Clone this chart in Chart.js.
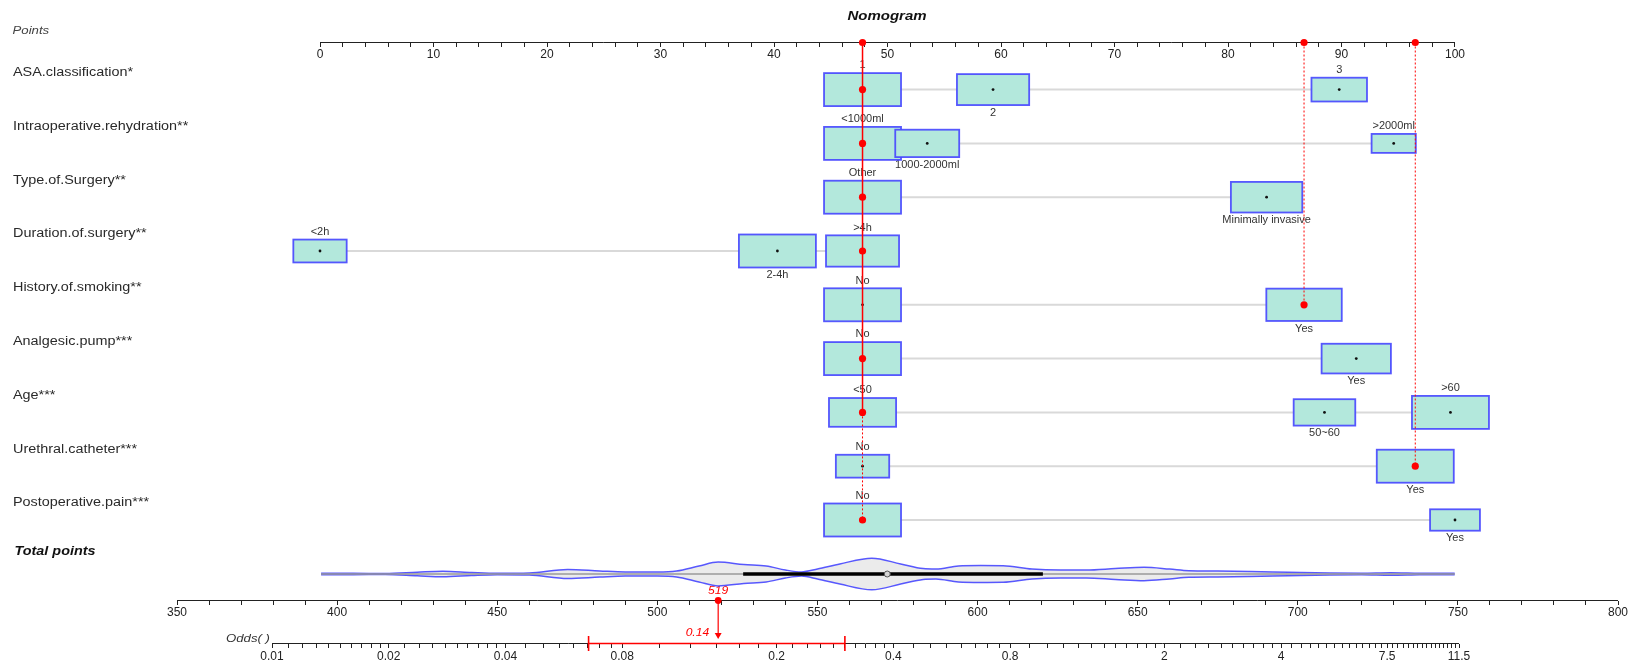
<!DOCTYPE html>
<html>
<head>
<meta charset="utf-8">
<script src="https://cdn.jsdelivr.net/npm/chart.js@4.4.1/dist/chart.umd.min.js"></script>
<style>html,body{margin:0;padding:0;background:#fff;}canvas{display:block;}</style>
</head>
<body>
<canvas id="c" width="1633" height="663"></canvas>
<script>
// ================= DATA =================
const variableNames = ['ASA.classification*','Intraoperative.rehydration**','Type.of.Surgery**','Duration.of.surgery**','History.of.smoking**','Analgesic.pump***','Age***','Urethral.catheter***','Postoperative.pain***'];

const asaLevels = ['1','2','3'];
const asaPoints = [47.8, 59.3, 89.8];
const asaFreq = [1.00, 0.88, 0.52];

const rehydrationLevels = ['<1000ml','1000-2000ml','>2000ml'];
const rehydrationPoints = [47.8, 53.5, 94.6];
const rehydrationFreq = [1.00, 0.69, 0.33];

const surgeryTypeLevels = ['Other','Minimally invasive'];
const surgeryTypePoints = [47.8, 83.4];
const surgeryTypeFreq = [1.00, 0.86];

const durationLevels = ['<2h','2-4h','>4h'];
const durationPoints = [0, 40.3, 47.8];
const durationFreq = [0.48, 1.00, 0.90];

const smokingLevels = ['No','Yes'];
const smokingPoints = [47.8, 86.7];
const smokingFreq = [1.00, 0.96];

const pumpLevels = ['No','Yes'];
const pumpPoints = [47.8, 91.3];
const pumpFreq = [1.00, 0.81];

const ageLevels = ['<50','50~60','>60'];
const agePoints = [47.8, 88.5, 99.6];
const ageFreq = [0.76, 0.64, 1.00];

const catheterLevels = ['No','Yes'];
const catheterPoints = [47.8, 96.5];
const catheterFreq = [0.48, 1.00];

const painLevels = ['No','Yes'];
const painPoints = [47.8, 100];
const painFreq = [1.00, 0.42];

// the observation shown in red (level index per variable)
const selectedLevel = [0, 0, 0, 2, 1, 0, 0, 1, 0];
const totalScore = 519;
const predictedOdds = 0.14;
const oddsCI = [0.0655, 0.30];
// log(odds) = intercept + slope * total points
const oddsLinkIntercept = -11.8235;
const oddsLinkSlope = 0.019012;

// distribution of total points (violin)
const violinTotals  = [395,405,415,425,433,442,450,460,472,482,490,500,506,513,519,527,534,540,545,550,557,567,576,583,587,594,601,608,617,626,634,643,652,660,666,675,685,697,710,720,729,738,749];
const violinDensity = [0.04,0.04,0.03,0.11,0.17,0.09,0.04,0.06,0.28,0.19,0.13,0.13,0.19,0.50,0.75,0.59,0.50,0.25,0.13,0.31,0.63,0.99,0.63,0.34,0.31,0.50,0.53,0.52,0.31,0.25,0.25,0.34,0.42,0.31,0.21,0.19,0.16,0.11,0.06,0.05,0.08,0.05,0.04];
const totalBoxStats = [395, 526.8, 571.8, 620.4, 749]; // min, q1, median, q3, max

// tick labels
const pointsTickLabels = [0,10,20,30,40,50,60,70,80,90,100];
const totalTickLabels = [350,400,450,500,550,600,650,700,750,800];
const oddsTickLabels = [0.01,0.02,0.04,0.08,0.2,0.4,0.8,2,4,7.5,11.5];
const oddsTickText = ['0.01','0.02','0.04','0.08','0.2','0.4','0.8','2','4','7.5','11.5'];
const pointsMinorStep = 2;
const totalMinorStep = 10;
const oddsMinorRanges = [[0.01,0.02,0.001],[0.02,0.04,0.002],[0.04,0.08,0.005],[0.08,0.2,0.02],[0.2,0.4,0.02],[0.4,0.8,0.05],[0.8,2,0.1],[2,4,0.2],[4,7.5,0.25],[7.5,11.5,0.25]];

// ================= LAYOUT =================
const W = 1633, H = 663;
const PTS_PX = [320, 1455];   // pixels of points 0 and 100
const TOT_PX = [177, 1618];   // pixels of total 350 and 800
const ROW1_PX = 89.6, ROW_STEP = 53.8;
const PTS_AXIS_PX = 42.5, TOT_AXIS_PX = 600.5, ODDS_AXIS_PX = 643.5, VIOLIN_PX = 574;
const BOX_W = 77, BOX_H = 33, VIOLIN_HALF_MAX = 16;
const RED_SOLID_END_ROW = 7;
const FONT = "'Liberation Sans', Arial, sans-serif";
const RED = '#ff0000';

const rowVal = px => 1 + (px - ROW1_PX) / ROW_STEP;
const yMin = rowVal(0), yMax = rowVal(H);
const ptsPx = (PTS_PX[1] - PTS_PX[0]) / 100;
const xPMin = 0 - PTS_PX[0] / ptsPx, xPMax = 100 + (W - PTS_PX[1]) / ptsPx;
const totPx = (TOT_PX[1] - TOT_PX[0]) / 450;
const xTMin = 350 - TOT_PX[0] / totPx, xTMax = 800 + (W - TOT_PX[1]) / totPx;
const xOMin = Math.exp(oddsLinkIntercept + oddsLinkSlope * xTMin);
const xOMax = Math.exp(oddsLinkIntercept + oddsLinkSlope * xTMax);

const rows = [
  [asaLevels, asaPoints, asaFreq],
  [rehydrationLevels, rehydrationPoints, rehydrationFreq],
  [surgeryTypeLevels, surgeryTypePoints, surgeryTypeFreq],
  [durationLevels, durationPoints, durationFreq],
  [smokingLevels, smokingPoints, smokingFreq],
  [pumpLevels, pumpPoints, pumpFreq],
  [ageLevels, agePoints, ageFreq],
  [catheterLevels, catheterPoints, catheterFreq],
  [painLevels, painPoints, painFreq]
].map((r, i) => ({ name: variableNames[i], levels: r[0], pts: r[1], freq: r[2], y: i + 1 }));

function stepTicks(a, b, step) {
  const out = [];
  const n = Math.round((b - a) / step);
  for (let k = 0; k <= n; k++) out.push(+(a + k * step).toFixed(6));
  return out;
}
const pointsTicks = stepTicks(0, 100, pointsMinorStep);
const totalTicks = stepTicks(350, 800, totalMinorStep);
let oddsTicks = [];
oddsMinorRanges.forEach(r => { oddsTicks = oddsTicks.concat(stepTicks(r[0], r[1], r[2])); });
oddsTicks = Array.from(new Set(oddsTicks.map(v => +v.toFixed(6)))).sort((a, b) => a - b);

// ================= DATASETS =================
const datasets = [];
const line = (o) => Object.assign({ showLine: true, pointRadius: 0, pointHoverRadius: 0, borderWidth: 1, fill: false, yAxisID: 'y' }, o);
const pts = (o) => Object.assign({ showLine: false, yAxisID: 'y', borderWidth: 0, pointHoverRadius: 0 }, o);

// connectors
const connectorData = [];
rows.forEach(r => {
  const lo = Math.min(...r.pts), hi = Math.max(...r.pts);
  connectorData.push({ x: lo, y: r.y }, { x: hi, y: r.y }, { x: hi, y: null });
});
const CONNECTOR_INDEX = datasets.length;
datasets.push(line({ data: connectorData, xAxisID: 'xP', borderColor: '#d9d9d9', borderWidth: 2, order: 100, spanGaps: false }));

// violin
const vc = rowVal(VIOLIN_PX);
datasets.push(line({ data: violinTotals.map((t, i) => ({ x: t, y: vc - violinDensity[i] * VIOLIN_HALF_MAX / ROW_STEP })),
  xAxisID: 'xT', borderColor: 'rgba(60,60,255,0.85)', borderWidth: 1.5, backgroundColor: '#ebebeb', fill: '+1', cubicInterpolationMode: 'monotone', order: 95 }));
datasets.push(line({ data: violinTotals.map((t, i) => ({ x: t, y: vc + violinDensity[i] * VIOLIN_HALF_MAX / ROW_STEP })),
  xAxisID: 'xT', borderColor: 'rgba(60,60,255,0.85)', borderWidth: 1.5, cubicInterpolationMode: 'monotone', order: 94 }));
datasets.push(line({ data: [{ x: totalBoxStats[0], y: vc }, { x: totalBoxStats[4], y: vc }], xAxisID: 'xT', borderColor: '#9a9a9a', borderWidth: 1.5, order: 50 }));
datasets.push(line({ data: [{ x: totalBoxStats[1], y: vc }, { x: totalBoxStats[3], y: vc }], xAxisID: 'xT', borderColor: '#000', borderWidth: 3.5, order: 49 }));
datasets.push(pts({ data: [{ x: totalBoxStats[2], y: vc }], xAxisID: 'xT', pointRadius: 3, pointBackgroundColor: '#d4d4d4', pointBorderColor: '#555', pointBorderWidth: 1, order: 48 }));

// axis lines
datasets.push(line({ data: [{ x: 0, y: rowVal(PTS_AXIS_PX) }, { x: 100, y: rowVal(PTS_AXIS_PX) }], xAxisID: 'xP', borderColor: '#222', order: 90 }));
datasets.push(line({ data: [{ x: 350, y: rowVal(TOT_AXIS_PX) }, { x: 800, y: rowVal(TOT_AXIS_PX) }], xAxisID: 'xT', borderColor: '#222', order: 90 }));
datasets.push(line({ data: [{ x: oddsTickLabels[0], y: rowVal(ODDS_AXIS_PX) }, { x: oddsTickLabels[oddsTickLabels.length - 1], y: rowVal(ODDS_AXIS_PX) }], xAxisID: 'xO', borderColor: '#222', order: 90 }));

// box centre dots
const centreDots = [];
rows.forEach(r => r.pts.forEach(p => centreDots.push({ x: p, y: r.y })));
datasets.push(pts({ data: centreDots, xAxisID: 'xP', pointRadius: 1.4, pointBackgroundColor: '#111', order: 60 }));

// red vertical lines
const selVals = rows.map((r, i) => r.pts[selectedLevel[i]]);
const distinct = Array.from(new Set(selVals));
distinct.forEach((v, k) => {
  const lastRow = Math.max(...rows.filter((r, i) => selVals[i] === v).map(r => r.y));
  if (k === 0) {
    datasets.push(line({ data: [{ x: v, y: rowVal(PTS_AXIS_PX) }, { x: v, y: RED_SOLID_END_ROW }], xAxisID: 'xP', borderColor: RED, borderWidth: 1.5, order: 20 }));
    datasets.push(line({ data: [{ x: v, y: RED_SOLID_END_ROW }, { x: v, y: lastRow }], xAxisID: 'xP', borderColor: RED, borderWidth: 1, borderDash: [2, 2], order: 20 }));
  } else {
    datasets.push(line({ data: [{ x: v, y: rowVal(PTS_AXIS_PX) }, { x: v, y: lastRow }], xAxisID: 'xP', borderColor: RED, borderWidth: 1, borderDash: [2, 2], order: 20 }));
  }
});
// red dots
datasets.push(pts({ data: rows.map((r, i) => ({ x: selVals[i], y: r.y })).concat(distinct.map(v => ({ x: v, y: rowVal(PTS_AXIS_PX) }))),
  xAxisID: 'xP', pointRadius: 3.6, pointBackgroundColor: RED, order: 10 }));

// total score -> odds
datasets.push(pts({ data: [{ x: totalScore, y: rowVal(TOT_AXIS_PX) }], xAxisID: 'xT', pointRadius: 3.4, pointBackgroundColor: RED, order: 10 }));
datasets.push(line({ data: [{ x: totalScore, y: rowVal(TOT_AXIS_PX) }, { x: totalScore, y: rowVal(633) }], xAxisID: 'xT', borderColor: RED, borderWidth: 1.2, order: 12 }));
datasets.push(pts({ data: [{ x: totalScore, y: rowVal(635) }], xAxisID: 'xT', pointStyle: 'triangle', rotation: 180, pointRadius: 4, pointBackgroundColor: RED, order: 11 }));
datasets.push(line({ data: [{ x: oddsCI[0], y: rowVal(ODDS_AXIS_PX) }, { x: oddsCI[1], y: rowVal(ODDS_AXIS_PX) }], xAxisID: 'xO', borderColor: RED, borderWidth: 1.6, order: 15 }));
datasets.push(pts({ data: oddsCI.map(v => ({ x: v, y: rowVal(ODDS_AXIS_PX) })), xAxisID: 'xO', pointStyle: 'line', rotation: 90, pointRadius: 7.5, pointBorderColor: RED, pointBorderWidth: 1.6, borderWidth: 1.6, order: 14 }));

// ================= PLUGIN: boxes & text =================
function txt(ctx, s, x, y, font, color, align, sx) {
  ctx.save();
  ctx.font = font; ctx.fillStyle = color; ctx.textBaseline = 'middle'; ctx.textAlign = align || 'left';
  ctx.translate(x, y); ctx.scale(sx || 1, 1); ctx.fillText(s, 0, 0);
  ctx.restore();
}
function boxGeom(chart, r, j) {
  const s = Math.sqrt(r.freq[j]);
  return { cx: chart.scales.xP.getPixelForValue(r.pts[j]), cy: chart.scales.y.getPixelForValue(r.y), w: BOX_W * s, h: BOX_H * s };
}
const nomoPlugin = {
  id: 'nomo',
  beforeDatasetsDraw(chart) {
    const ctx = chart.ctx;
    txt(ctx, 'Nomogram', 887, 16.5, `italic bold 12px ${FONT}`, '#111', 'center', 1.25);
    txt(ctx, 'Points', 12.5, 30.5, `italic 11px ${FONT}`, '#444', 'left', 1.2);
    rows.forEach(r => {
      const cy = chart.scales.y.getPixelForValue(r.y);
      txt(ctx, r.name, 13, cy - 17, `12px ${FONT}`, '#2a2a2a', 'left', 1.2);
      r.levels.forEach((lab, j) => {
        const g = boxGeom(chart, r, j);
        const ly = j % 2 === 0 ? g.cy - g.h / 2 - 7.5 : g.cy + g.h / 2 + 8;
        txt(ctx, lab, g.cx, ly, `10px ${FONT}`, '#333', 'center', 1.1);
      });
    });
    txt(ctx, 'Total points', 14.5, 552, `italic bold 12px ${FONT}`, '#111', 'left', 1.2);
    txt(ctx, 'Odds( )', 270, 639, `italic 11px ${FONT}`, '#333', 'right', 1.2);
    const tx = chart.scales.xT.getPixelForValue(totalScore);
    txt(ctx, String(totalScore), tx, 591, `italic 11px ${FONT}`, RED, 'center', 1.1);
    txt(ctx, predictedOdds.toFixed(2), tx - 9, 633, `italic 11px ${FONT}`, RED, 'right', 1.1);
  },
  afterDatasetDraw(chart, args) {
    if (args.index !== CONNECTOR_INDEX) return;
    const ctx = chart.ctx;
    ctx.save();
    rows.forEach(r => r.levels.forEach((lab, j) => {
      const g = boxGeom(chart, r, j);
      ctx.fillStyle = '#b3e8dc';
      ctx.fillRect(g.cx - g.w / 2, g.cy - g.h / 2, g.w, g.h);
      ctx.strokeStyle = 'rgba(70,70,255,0.9)';
      ctx.lineWidth = 1.8;
      ctx.strokeRect(g.cx - g.w / 2, g.cy - g.h / 2, g.w, g.h);
    }));
    ctx.restore();
  }
};

// ================= SCALES =================
const gridOpts = { display: true, drawOnChartArea: false, drawTicks: true, tickLength: 4, tickColor: '#222', tickWidth: 1 };
const near = (a, b) => Math.abs(a - b) < 1e-6 * Math.max(1, Math.abs(b));
function xScale(type, posPx, min, max, ticks, labelFn, pad) {
  return {
    type, axis: 'x', position: { y: rowVal(posPx) }, min, max, bounds: 'data',
    afterBuildTicks: s => { s.ticks = ticks.map(v => ({ value: v })); },
    afterFit: s => { s.paddingLeft = 0; s.paddingRight = 0; s.paddingTop = 0; s.paddingBottom = 0; },
    grid: gridOpts, border: { display: false },
    ticks: { autoSkip: false, maxRotation: 0, minRotation: 0, padding: pad, color: '#222', font: { size: 12, family: FONT }, callback: labelFn }
  };
}

new Chart(document.getElementById('c'), {
  type: 'scatter',
  data: { datasets },
  options: {
    responsive: false, animation: false, devicePixelRatio: 1, events: [],
    layout: { padding: 0, autoPadding: false },
    plugins: { legend: { display: false }, tooltip: { enabled: false } },
    scales: {
      y: { type: 'linear', display: false, reverse: true, min: yMin, max: yMax, bounds: 'data',
           afterFit: s => { s.paddingLeft = 0; s.paddingRight = 0; s.paddingTop = 0; s.paddingBottom = 0; } },
      xP: xScale('linear', PTS_AXIS_PX, xPMin, xPMax, pointsTicks, v => { const i = pointsTickLabels.findIndex(t => near(v, t)); return i >= 0 ? String(pointsTickLabels[i]) : ''; }, 1),
      xT: xScale('linear', TOT_AXIS_PX, xTMin, xTMax, totalTicks, v => { const i = totalTickLabels.findIndex(t => near(v, t)); return i >= 0 ? String(totalTickLabels[i]) : ''; }, 1),
      xO: xScale('logarithmic', ODDS_AXIS_PX, xOMin, xOMax, oddsTicks, v => { const i = oddsTickLabels.findIndex(t => near(v, t)); return i >= 0 ? oddsTickText[i] : ''; }, 2)
    }
  },
  plugins: [nomoPlugin]
});
</script>
</body>
</html>
